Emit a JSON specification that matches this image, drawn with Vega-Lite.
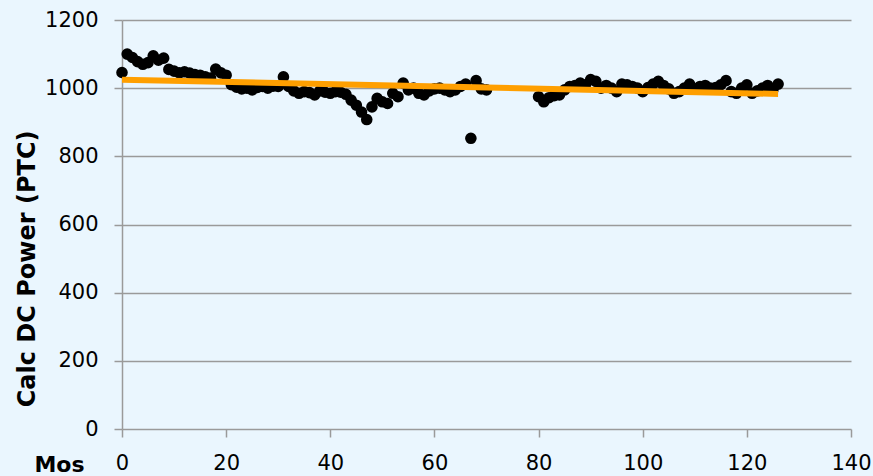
{
  "$schema": "https://vega.github.io/schema/vega-lite/v6.json",
  "width": 729,
  "height": 409,
  "autosize": {"type": "none"},
  "padding": {"left": 122, "top": 20, "right": 22, "bottom": 47},
  "background": "#EAF6FE",
  "config": {
    "view": {"stroke": null},
    "font": "DejaVu Sans",
    "axis": {"labelFont": "DejaVu Sans", "titleFont": "DejaVu Sans", "labelColor": "#000000", "titleColor": "#000000"}
  },
  "datasets": {
    "obs": [
      {"mos": 0, "power": 1046}, {"mos": 1, "power": 1100}, {"mos": 2, "power": 1090}, {"mos": 3, "power": 1078},
      {"mos": 4, "power": 1070}, {"mos": 5, "power": 1075}, {"mos": 6, "power": 1095}, {"mos": 7, "power": 1082},
      {"mos": 8, "power": 1088}, {"mos": 9, "power": 1055}, {"mos": 10, "power": 1050}, {"mos": 11, "power": 1045},
      {"mos": 12, "power": 1048}, {"mos": 13, "power": 1044}, {"mos": 14, "power": 1040}, {"mos": 15, "power": 1038},
      {"mos": 16, "power": 1033}, {"mos": 17, "power": 1030}, {"mos": 18, "power": 1056}, {"mos": 19, "power": 1045},
      {"mos": 20, "power": 1038}, {"mos": 21, "power": 1010}, {"mos": 22, "power": 1003}, {"mos": 23, "power": 998},
      {"mos": 24, "power": 1000}, {"mos": 25, "power": 995}, {"mos": 26, "power": 1002}, {"mos": 27, "power": 1005},
      {"mos": 28, "power": 1000}, {"mos": 29, "power": 1006}, {"mos": 30, "power": 1005}, {"mos": 31, "power": 1033},
      {"mos": 32, "power": 1005}, {"mos": 33, "power": 992}, {"mos": 34, "power": 985}, {"mos": 35, "power": 990},
      {"mos": 36, "power": 987}, {"mos": 37, "power": 980}, {"mos": 38, "power": 992}, {"mos": 39, "power": 988},
      {"mos": 40, "power": 985}, {"mos": 41, "power": 990}, {"mos": 42, "power": 988}, {"mos": 43, "power": 982},
      {"mos": 44, "power": 965}, {"mos": 45, "power": 950}, {"mos": 46, "power": 930}, {"mos": 47, "power": 908},
      {"mos": 48, "power": 945}, {"mos": 49, "power": 970}, {"mos": 50, "power": 960}, {"mos": 51, "power": 955},
      {"mos": 52, "power": 985}, {"mos": 53, "power": 975}, {"mos": 54, "power": 1015}, {"mos": 55, "power": 995},
      {"mos": 56, "power": 1000}, {"mos": 57, "power": 985}, {"mos": 58, "power": 980}, {"mos": 59, "power": 992},
      {"mos": 60, "power": 998}, {"mos": 61, "power": 1000}, {"mos": 62, "power": 995}, {"mos": 63, "power": 990},
      {"mos": 64, "power": 995}, {"mos": 65, "power": 1005}, {"mos": 66, "power": 1012}, {"mos": 67, "power": 853},
      {"mos": 68, "power": 1022}, {"mos": 69, "power": 998}, {"mos": 70, "power": 995},
      {"mos": 80, "power": 975}, {"mos": 81, "power": 960}, {"mos": 82, "power": 972}, {"mos": 83, "power": 978},
      {"mos": 84, "power": 980}, {"mos": 85, "power": 995}, {"mos": 86, "power": 1005}, {"mos": 87, "power": 1008},
      {"mos": 88, "power": 1015}, {"mos": 89, "power": 1010}, {"mos": 90, "power": 1025}, {"mos": 91, "power": 1020},
      {"mos": 92, "power": 1000}, {"mos": 93, "power": 1008}, {"mos": 94, "power": 1000}, {"mos": 95, "power": 990},
      {"mos": 96, "power": 1012}, {"mos": 97, "power": 1010}, {"mos": 98, "power": 1005}, {"mos": 99, "power": 1000},
      {"mos": 100, "power": 990}, {"mos": 101, "power": 1002}, {"mos": 102, "power": 1012}, {"mos": 103, "power": 1020},
      {"mos": 104, "power": 1008}, {"mos": 105, "power": 998}, {"mos": 106, "power": 985}, {"mos": 107, "power": 990},
      {"mos": 108, "power": 1000}, {"mos": 109, "power": 1012}, {"mos": 110, "power": 998}, {"mos": 111, "power": 1005},
      {"mos": 112, "power": 1008}, {"mos": 113, "power": 1000}, {"mos": 114, "power": 1002}, {"mos": 115, "power": 1010},
      {"mos": 116, "power": 1022}, {"mos": 117, "power": 990}, {"mos": 118, "power": 985}, {"mos": 119, "power": 1000},
      {"mos": 120, "power": 1010}, {"mos": 121, "power": 985}, {"mos": 122, "power": 992}, {"mos": 123, "power": 1000},
      {"mos": 124, "power": 1008}, {"mos": 125, "power": 995}, {"mos": 126, "power": 1012}
    ],
    "trend": [
      {"mos": 0, "power": 1025},
      {"mos": 126, "power": 983}
    ]
  },
  "layer": [
    {
      "data": {"name": "obs"},
      "mark": {"type": "point", "filled": true, "shape": "circle", "size": 135, "color": "#000000", "opacity": 1},
      "encoding": {
        "x": {
          "field": "mos", "type": "quantitative",
          "scale": {"domain": [0, 140], "nice": false, "zero": true},
          "axis": {
            "values": [0, 20, 40, 60, 80, 100, 120, 140], "format": "d",
            "grid": false, "domain": false, "ticks": true, "tickSize": 8, "tickColor": "#9A9A9A", "tickWidth": 1.5,
            "labelFontSize": 21, "labelPadding": 26, "labelBaseline": "middle", "labelFlush": false,
            "title": "Mos", "titleFontSize": 22, "titleFontWeight": "bold",
            "titleX": -63, "titleY": 35, "titleAlign": "center", "titleBaseline": "middle"
          }
        },
        "y": {
          "field": "power", "type": "quantitative",
          "scale": {"domain": [0, 1200], "nice": false},
          "axis": {
            "values": [0, 200, 400, 600, 800, 1000, 1200], "format": "d",
            "grid": true, "gridColor": "#9A9A9A", "gridWidth": 1.5,
            "domain": true, "domainColor": "#9A9A9A", "domainWidth": 1.5,
            "ticks": true, "tickSize": 8, "tickColor": "#9A9A9A", "tickWidth": 1.5,
            "labelFontSize": 21, "labelPadding": 16, "labelFlush": false,
            "title": "Calc DC Power (PTC)", "titleFontSize": 24, "titleFontWeight": "bold",
            "titleX": -95, "titleY": 110, "titleAlign": "right", "titleBaseline": "middle", "titleAngle": -90
          }
        }
      }
    },
    {
      "data": {"name": "trend"},
      "mark": {"type": "line", "color": "#FF9F00", "strokeWidth": 6, "strokeCap": "butt"},
      "encoding": {
        "x": {"field": "mos", "type": "quantitative"},
        "y": {"field": "power", "type": "quantitative"}
      }
    }
  ]
}
